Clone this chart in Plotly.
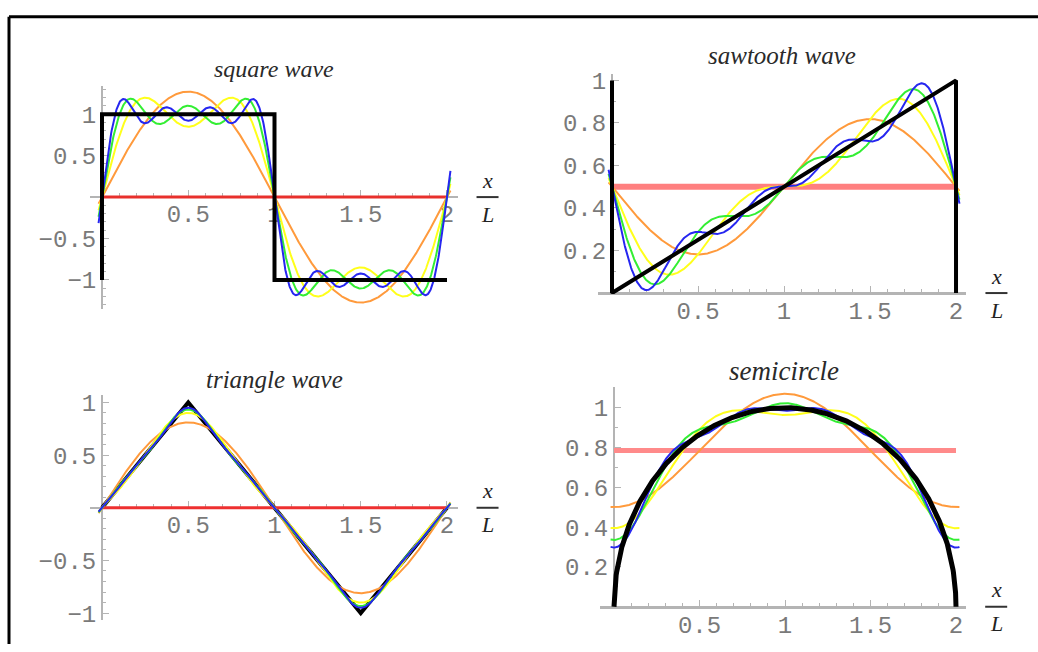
import numpy as np
import plotly.graph_objects as go

W, H = 1038, 652

# ---------------- data ----------------
titles = ["square wave", "sawtooth wave", "triangle wave", "semicircle"]

# Fourier data of each panel: constant term, harmonic numbers, coefficients
square_mean = 0.0
square_harm = [1, 3, 5, 7]
square_sin = [1.2732, 0.4244, 0.2546, 0.1819]
square_x = [0, 0, 1, 1, 2]
square_y = [-1, 1, 1, -1, -1]

saw_mean = 0.5
saw_harm = [1, 2, 3, 4]
saw_sin = [-0.3183, -0.1592, -0.1061, -0.0796]
saw_x = [0, 0, 2, 2]
saw_y = [1, 0, 1, 0]

tri_mean = 0.0
tri_harm = [1, 3, 5, 7]
tri_sin = [0.8106, -0.0901, 0.0324, -0.0165]
tri_x = [0, 0.5, 1.5, 2]
tri_y = [0, 1, -1, 0]

semi_mean = 0.7854
semi_harm = [1, 2, 3, 4]
semi_cos = [-0.2846, -0.1062, -0.0589, -0.0386]

x_ticks = [0.5, 1, 1.5, 2]
y_ticks = [
    [-1, -0.5, 0.5, 1],
    [0.2, 0.4, 0.6, 0.8, 1],
    [-1, -0.5, 0.5, 1],
    [0.2, 0.4, 0.6, 0.8, 1],
]

# ---------------- styles / layout ----------------
approx_colors = ["#ff9a3c", "#ffff1a", "#33ee33", "#2626f0"]
red_styles = [("#e8302c", 3), ("#ff7f7f", 6), ("#ee3030", 3), ("#ff8a8a", 5)]

# panel geometry in pixels: (x_left, x_right, y_top, y_bottom), data ranges
panels = [
    dict(px=(90, 458), py=(83, 310), xr=(-0.0696, 2.0638), yr=(-1.349, 1.337)),
    dict(px=(598, 966), py=(70, 295), xr=(-0.0814, 2.058), yr=(-0.005, 1.032)),
    dict(px=(90, 458), py=(398, 628), xr=(-0.0696, 2.0638), yr=(-1.07, 1.07)),
    dict(px=(600, 966), py=(390, 615), xr=(-0.0819, 2.0585), yr=(-0.005, 1.103)),
]


def paper_x(p, xv):
    (a, b), (r0, r1) = p["px"], p["xr"]
    return (a + (xv - r0) / (r1 - r0) * (b - a)) / W


def paper_y(p, yv):
    (t, bt), (r0, r1) = p["py"], p["yr"]
    return 1 - (bt - (yv - r0) / (r1 - r0) * (bt - t)) / H


xs = np.linspace(-0.02, 2.02, 700)


def sine_partial(mean, harm, coef, k):
    y = np.full_like(xs, mean)
    for n, c in zip(harm[:k], coef[:k]):
        y = y + c * np.sin(n * np.pi * xs)
    return y


def cos_partial(mean, harm, coef, k):
    y = np.full_like(xs, mean)
    for n, c in zip(harm[:k], coef[:k]):
        y = y + c * np.cos(n * np.pi * xs)
    return y


fig = go.Figure()

specs = [
    (square_mean, square_harm, square_sin, sine_partial, square_x, square_y, True),
    (saw_mean, saw_harm, saw_sin, sine_partial, saw_x, saw_y, True),
    (tri_mean, tri_harm, tri_sin, sine_partial, tri_x, tri_y, False),
    (semi_mean, semi_harm, semi_cos, cos_partial, None, None, True),
]

semi_xs = np.linspace(0, 2, 801)
semi_ys = np.sqrt(np.clip(1 - (semi_xs - 1) ** 2, 0, None))

for i, (mean, harm, coef, fn, tx, ty, black_top) in enumerate(specs):
    ax = "" if i == 0 else str(i + 1)
    xa, ya = "x" + ax, "y" + ax
    if tx is None:
        tx, ty = semi_xs, semi_ys

    black = go.Scatter(x=tx, y=ty, mode="lines", xaxis=xa, yaxis=ya,
                       line=dict(color="black", width=5 if i == 3 else 4),
                       hoverinfo="skip")
    if not black_top:
        fig.add_trace(black)
    rc, rw = red_styles[i]
    fig.add_trace(go.Scatter(x=[0, 2], y=[mean, mean], mode="lines", xaxis=xa, yaxis=ya,
                             line=dict(color=rc, width=rw), hoverinfo="skip"))
    for k in range(1, 5):
        fig.add_trace(go.Scatter(x=xs, y=fn(mean, harm, coef, k), mode="lines",
                                 xaxis=xa, yaxis=ya,
                                 line=dict(color=approx_colors[k - 1], width=2),
                                 hoverinfo="skip"))
    if black_top:
        fig.add_trace(black)

tickfont = dict(family="Liberation Mono", size=24, color="#7a7a7a")
axis_color = "#b4b4b4"

layout = dict(width=W, height=H, margin=dict(l=0, r=0, t=0, b=0),
              paper_bgcolor="white", plot_bgcolor="rgba(0,0,0,0)", showlegend=False)

annotations = []
shapes = []
title_pos = [(274, 65, 24), (782, 52, 25), (274, 382, 25), (784, 373, 27)]

for i, p in enumerate(panels):
    ax = "" if i == 0 else str(i + 1)
    xdom = [p["px"][0] / W, p["px"][1] / W]
    ydom = [1 - p["py"][1] / H, 1 - p["py"][0] / H]
    xminor = [round(0.1 * j, 1) for j in range(0, 21) if j % 5 != 0]
    y0, y1 = p["yr"]
    yminor = [round(0.1 * j, 1) for j in range(-13, 14)
              if j % 5 != 0 and y0 <= 0.1 * j <= y1]
    layout["xaxis" + ax] = dict(
        domain=xdom, range=list(p["xr"]), anchor="free",
        position=paper_y(p, 0.0), showline=True, linecolor=axis_color,
        linewidth=2 if i in (0, 2) else 3, layer="below traces",
        showgrid=False, zeroline=False, tickmode="array", tickvals=x_ticks,
        ticks="inside", ticklen=6, tickcolor=axis_color, tickwidth=1,
        tickfont=tickfont, fixedrange=True, ticklabelstandoff=-5,
        minor=dict(tickmode="array", tickvals=xminor, ticks="inside",
                   ticklen=3, tickcolor=axis_color, tickwidth=1),
    )
    layout["yaxis" + ax] = dict(
        domain=ydom, range=list(p["yr"]), anchor="free",
        position=paper_x(p, 0.0), showline=True, linecolor=axis_color,
        linewidth=2, layer="below traces",
        showgrid=False, zeroline=False, tickmode="array", tickvals=y_ticks[i],
        ticks="inside", ticklen=6, tickcolor=axis_color, tickwidth=1,
        tickfont=tickfont, fixedrange=True,
        minor=dict(tickmode="array", tickvals=yminor, ticks="inside",
                   ticklen=3, tickcolor=axis_color, tickwidth=1),
    )

    # title
    tx_, ty_, ts = title_pos[i]
    annotations.append(dict(
        text="<i>%s</i>" % titles[i], xref="paper", yref="paper",
        x=tx_ / W, y=1 - ty_ / H, showarrow=False,
        font=dict(family="Liberation Serif", size=ts, color="#2a2a2a"),
        xanchor="center", yanchor="middle"))

    # x / L axis label
    lx = paper_x(p, 2.235)
    ly = paper_y(p, 0.0)
    annotations.append(dict(text="<i>x</i>", xref="paper", yref="paper", x=lx, y=ly,
                            yshift=17, showarrow=False, xanchor="center", yanchor="middle",
                            font=dict(family="Liberation Serif", size=22, color="#222222")))
    annotations.append(dict(text="<i>L</i>", xref="paper", yref="paper", x=lx, y=ly,
                            yshift=-17, showarrow=False, xanchor="center", yanchor="middle",
                            font=dict(family="Liberation Serif", size=22, color="#222222")))
    shapes.append(dict(type="line", xref="paper", yref="paper",
                       x0=lx - 11 / W, x1=lx + 11 / W, y0=ly, y1=ly,
                       line=dict(color="#333333", width=2)))

# outer frame (top and left edges visible)
shapes.append(dict(type="line", xref="paper", yref="paper", x0=9 / W, x1=1.0,
                   y0=1 - 12 / H, y1=1 - 12 / H, line=dict(color="black", width=3)))
shapes.append(dict(type="line", xref="paper", yref="paper", x0=9 / W, x1=9 / W,
                   y0=0, y1=1 - 12 / H, line=dict(color="black", width=3)))

layout["annotations"] = annotations
layout["shapes"] = shapes
fig.update_layout(**layout)

fig.write_html(
    "out.html",
    config={"displayModeBar": False, "staticPlot": True},
    post_script=(
        "document.body.style.margin='0';document.body.style.padding='0';"
        "document.documentElement.style.overflow='hidden';"
        "var gd=document.querySelector('.plotly-graph-div');"
        "gd.style.position='absolute';gd.style.top='0px';gd.style.left='0px';"
    ),
)
